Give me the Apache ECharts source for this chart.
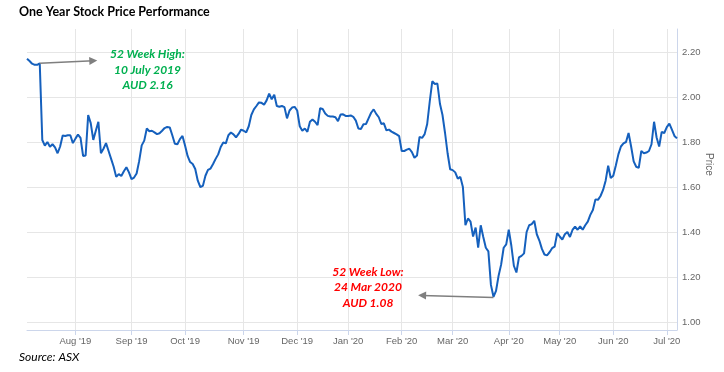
<!DOCTYPE html>
<html><head><meta charset="utf-8">
<script src="https://cdn.jsdelivr.net/npm/echarts@6/dist/echarts.min.js"></script>
<style>html,body{margin:0;padding:0;background:#fff}#c{width:724px;height:372px}</style>
</head><body><div id="c"></div>
<script>
const chartTitle = 'One Year Stock Price Performance';
const sourceText = 'Source: ASX';
const axisTitle = 'Price';
const firstTradingDay = '2019-07-05';
const asxHolidays = ['2019-12-25','2019-12-26','2020-01-01','2020-01-27','2020-04-10','2020-04-13','2020-06-08'];
const monthNames = ['Jan','Feb','Mar','Apr','May','Jun','Jul','Aug','Sep','Oct','Nov','Dec'];
const yTickValues = [1.00, 1.20, 1.40, 1.60, 1.80, 2.00, 2.20];
const prices = [
 2.17,2.16,2.148,2.143,2.143,2.15,1.809,1.784,1.80,1.779,
 1.79,1.776,1.75,1.78,1.829,1.827,1.83,1.83,1.795,1.815,
 1.833,1.818,1.738,1.74,1.92,1.884,1.809,1.85,1.89,1.75,
 1.77,1.795,1.76,1.725,1.69,1.645,1.657,1.649,1.67,1.688,
 1.665,1.635,1.642,1.66,1.715,1.785,1.806,1.86,1.848,1.85,
 1.843,1.835,1.839,1.85,1.862,1.867,1.865,1.83,1.792,1.79,
 1.813,1.827,1.784,1.738,1.711,1.702,1.68,1.628,1.60,1.605,
 1.65,1.676,1.682,1.702,1.725,1.745,1.778,1.798,1.794,1.83,
 1.842,1.834,1.821,1.836,1.855,1.85,1.843,1.87,1.92,1.945,
 1.96,1.976,1.974,1.966,1.985,2.015,1.99,2.01,1.96,1.957,
 1.96,1.955,1.905,1.94,1.953,1.956,1.94,1.87,1.85,1.86,
 1.845,1.89,1.90,1.89,1.875,1.95,1.947,1.927,1.916,1.913,
 1.913,1.91,1.893,1.922,1.923,1.916,1.916,1.918,1.912,1.895,
 1.86,1.858,1.879,1.88,1.905,1.93,1.945,1.925,1.91,1.88,
 1.883,1.852,1.855,1.846,1.84,1.834,1.826,1.76,1.76,1.766,
 1.77,1.755,1.73,1.74,1.823,1.818,1.835,1.88,1.98,2.07,
 2.058,2.06,1.97,1.92,1.84,1.75,1.679,1.675,1.665,1.637,
 1.645,1.60,1.43,1.46,1.446,1.38,1.42,1.33,1.43,1.378,
 1.33,1.314,1.165,1.112,1.138,1.205,1.255,1.33,1.345,1.41,
 1.34,1.25,1.22,1.287,1.294,1.305,1.40,1.43,1.435,1.45,
 1.39,1.362,1.325,1.30,1.296,1.31,1.328,1.335,1.395,1.38,
 1.366,1.39,1.40,1.378,1.409,1.424,1.41,1.425,1.41,1.43,
 1.446,1.476,1.498,1.545,1.543,1.56,1.587,1.628,1.695,1.64,
 1.65,1.696,1.745,1.78,1.794,1.80,1.84,1.78,1.714,1.69,
 1.685,1.76,1.75,1.753,1.76,1.79,1.89,1.82,1.78,1.845,
 1.84,1.866,1.882,1.855,1.827,1.816
];
const highNote = ['52 Week High:', '10 July 2019', 'AUD 2.16'];
const lowNote = ['52 Week Low:', '24 Mar 2020', 'AUD 1.08'];

// trading dates (weekdays, excluding ASX holidays), one per price
const dates = [];
(function(){
  const d = new Date(firstTradingDay + 'T00:00:00Z');
  while (dates.length < prices.length) {
    const wd = d.getUTCDay();
    const s = d.toISOString().slice(0,10);
    if (wd !== 0 && wd !== 6 && asxHolidays.indexOf(s) < 0) dates.push(s);
    d.setUTCDate(d.getUTCDate() + 1);
  }
})();
const isMonthStart = (i) => i > 0 && dates[i].slice(5,7) !== dates[i-1].slice(5,7);
const monthLabel = (s) => monthNames[+s.slice(5,7) - 1] + " '" + s.slice(2,4);

let lowIdx = 0;
prices.forEach((v,i)=>{ if (v < prices[lowIdx]) lowIdx = i; });
const highIdx = 5;

const chart = echarts.init(document.getElementById('c'), null, {renderer:'canvas'});
const labelFont = '"Liberation Sans", Arial, sans-serif';
chart.setOption({
  animation: false,
  backgroundColor: '#fff',
  grid: [
    {left: 27, right: 47, top: 52, bottom: 50},
    {left: 27, right: 47, top: 29, bottom: 42}
  ],
  xAxis: [
    {gridIndex: 0, type: 'category', data: dates, boundaryGap: false,
     axisLine: {show: false}, axisTick: {show: false}, axisLabel: {show: false}, splitLine: {show: false}},
    {gridIndex: 1, type: 'category', data: dates, boundaryGap: false,
     axisLine: {show: true, lineStyle: {color: '#ccd6eb', width: 1}},
     axisTick: {show: true, interval: (i) => isMonthStart(i), length: 5, lineStyle: {color: '#ccd6eb'}},
     axisLabel: {show: true, interval: (i) => isMonthStart(i), formatter: (v) => monthLabel(v),
       color: '#666666', fontSize: 9.5, fontFamily: labelFont, margin: 6},
     splitLine: {show: true, interval: (i) => isMonthStart(i), lineStyle: {color: '#e6e6e6', width: 1}}}
  ],
  yAxis: [
    {gridIndex: 0, type: 'value', position: 'right', min: yTickValues[0], max: yTickValues[yTickValues.length-1], interval: 0.2,
     axisLine: {show: false}, axisTick: {show: false},
     axisLabel: {formatter: (v) => v.toFixed(2), color: '#666666', fontSize: 9.5, fontFamily: labelFont, margin: 5},
     splitLine: {show: true, lineStyle: {color: '#e6e6e6', width: 1}}},
    {gridIndex: 1, type: 'value', position: 'right', min: 0, max: 1,
     axisLine: {show: true, lineStyle: {color: '#ccd6eb', width: 1}}, axisTick: {show: false},
     axisLabel: {show: false}, splitLine: {show: false}}
  ],
  series: [{
    type: 'line', xAxisIndex: 0, yAxisIndex: 0, data: prices,
    showSymbol: false, symbol: 'none',
    lineStyle: {color: '#1560bd', width: 2},
    markLine: {
      silent: true, animation: false,
      symbol: ['none', 'triangle'], symbolSize: 8,
      label: {show: false},
      lineStyle: {color: '#7f7f7f', width: 1.5, type: 'solid'},
      data: [
        [{coord: [highIdx, prices[highIdx]]}, {coord: [25.5, 2.161]}],
        [{coord: [lowIdx, prices[lowIdx] - 0.003]}, {coord: [155.1, 1.118]}]
      ]
    }
  }],
  graphic: {
    elements: [
      {type: 'text', z: 100, left: 19, top: 5, style: {text: chartTitle, fill: '#000', font: 'bold 12.5px Lato, sans-serif'}},
      {type: 'text', z: 100, x: 147.5, y: 69.7, style: {text: highNote.join('\n'), fill: '#00b050', font: 'italic bold 12px Lato, sans-serif',
        textAlign: 'center', textVerticalAlign: 'middle', lineHeight: 15.5}},
      {type: 'text', z: 100, x: 368, y: 287.6, style: {text: lowNote.join('\n'), fill: '#ff0000', font: 'italic bold 12px Lato, sans-serif',
        textAlign: 'center', textVerticalAlign: 'middle', lineHeight: 15.8}},
      {type: 'text', z: 100, x: 19, y: 357, style: {text: sourceText, fill: '#000', font: 'italic 12px Lato, sans-serif', textVerticalAlign: 'middle'}},
      {type: 'text', z: 100, x: 709, y: 164.5, rotation: -Math.PI/2, style: {text: axisTitle, fill: '#666666', font: '10px "Liberation Sans", Arial, sans-serif',
        textAlign: 'center', textVerticalAlign: 'middle'}}
    ]
  }
});
</script>
</body></html>
